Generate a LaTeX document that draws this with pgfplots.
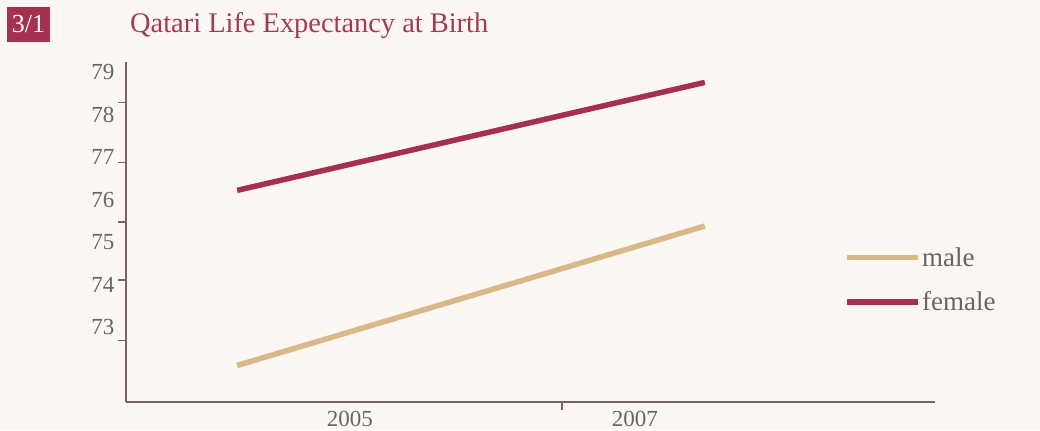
\documentclass[border=0pt]{standalone}
\usepackage{pgfplots}
\pgfplotsset{compat=1.18}
\usepackage{fontspec}
\setmainfont{Liberation Serif}
\definecolor{bg}{HTML}{FCF7F2}
\definecolor{crim}{HTML}{A5304F}
\definecolor{titlec}{HTML}{A33A55}
\definecolor{tan}{HTML}{D8B98A}
\definecolor{axc}{HTML}{7B6464}
\definecolor{labc}{HTML}{666666}
\begin{document}
\begin{tikzpicture}[x=1pt,y=1pt]
\fill[bg] (0,0) rectangle (1040,429);
\node[fill=crim,text=white,minimum width=43pt,minimum height=35pt,inner sep=0pt,font=\fontsize{26}{26}\selectfont] at (28.5,404.5) {3/1};
\node[anchor=west,inner sep=0pt,text=titlec,font=\fontsize{28.4}{28.4}\selectfont] at (130,403) {Qatari Life Expectancy at Birth};
\begin{axis}[
  at={(126pt,27pt)}, anchor=south west,
  scale only axis, width=809pt, height=340pt,
  xmin=2003.43, xmax=2009.105,
  ymin=71.24, ymax=79.24,
  axis x line=bottom, axis y line=left,
  axis line style={-, color=axc, line width=1.6pt},
  xtick={2005,2007}, ytick={73,74,75,76,77,78,79},
  major tick length=0pt,
  /pgf/number format/assume math mode=true,
  /pgf/number format/1000 sep={},
  ticklabel style={font=\fontsize{23}{23}\selectfont, text=labc},
  yticklabel style={xshift=-8pt},
  xticklabel style={yshift=-6pt},
  extra y ticks={78.29,76.88,75.47,74.11,72.69},
  extra y tick labels={},
  extra x ticks={2006.49},
  extra x tick labels={},
  extra tick style={major tick length=8pt, tick align=outside, tick style={color=axc, line width=1.6pt}},
  legend style={at={(0.888,0.458)}, anchor=north west, draw=none, fill=none,
    font=\fontsize{27}{27}\selectfont, text=labc, row sep=22pt, inner sep=0pt,
    nodes={inner sep=1pt}},
  legend cell align=left,
  legend image code/.code={\draw[#1] (0pt,0pt) -- (71pt,0pt);},
  clip=false,
]
\addplot[tan, line width=5.5pt] coordinates {(2004.21,72.1) (2007.49,75.38)};
\addlegendentry{male}
\addplot[crim, line width=5.5pt] coordinates {(2004.21,76.22) (2007.49,78.76)};
\addlegendentry{female}
\end{axis}
\end{tikzpicture}
\end{document}
